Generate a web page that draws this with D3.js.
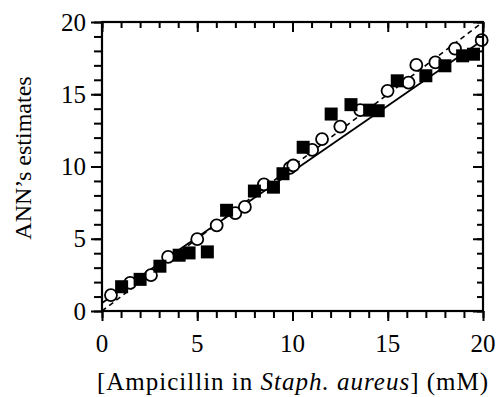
<!DOCTYPE html>
<html><head><meta charset="utf-8">
<script src="https://cdn.jsdelivr.net/npm/d3@7"></script>
<style>body{margin:0;background:#fff}svg{display:block}</style>
</head><body>
<script>
const circleX = [0.47,1.48,2.57,3.47,5.0,6.02,7.0,7.5,8.5,9.86,10.04,11.03,11.55,12.51,13.56,14.99,16.09,16.5,17.5,18.53,19.93];
const circleY = [1.1,1.95,2.48,3.74,4.97,5.93,6.78,7.2,8.76,9.9,10.07,11.15,11.9,12.76,13.9,15.24,15.8,17.03,17.2,18.16,18.74];
const squareX = [1.03,2.0,3.04,4.05,4.57,5.53,6.54,8.0,9.0,9.5,10.56,12.03,13.07,14.05,14.5,15.5,17.0,18.0,18.93,19.5];
const squareY = [1.68,2.19,3.1,3.86,4.02,4.09,6.97,8.3,8.57,9.5,11.33,13.63,14.28,13.9,13.86,15.93,16.28,16.97,17.66,17.77];
const fitLine = [[0,0.55],[20,18.75]];
const idLine = [[0,0],[20,20]];
const xTicks = [0,5,10,15,20];
const yTicks = [0,5,10,15,20];

const W=496,H=397;
const m={l:102,r:483,t:22,b:311};
const svg=d3.select("body").append("svg").attr("width",W).attr("height",H);
const x=d3.scaleLinear().domain([0,20]).range([m.l,m.r]);
const y=d3.scaleLinear().domain([0,20]).range([m.b,m.t]);
const font="'Liberation Serif','Times New Roman',serif";
const minor=d3.range(0,21,1);

const line=d3.line().x(d=>x(d[0])).y(d=>y(d[1]));
svg.append("path").datum(idLine).attr("d",line).attr("fill","none").attr("stroke","#000").attr("stroke-width",1.6).attr("stroke-dasharray","5,4");
svg.append("path").datum(fitLine).attr("d",line).attr("fill","none").attr("stroke","#000").attr("stroke-width",1.8);

svg.append("g").selectAll("circle").data(circleX.map((v,i)=>[v,circleY[i]])).join("circle")
  .attr("cx",d=>x(d[0])).attr("cy",d=>y(d[1])).attr("r",6).attr("fill","#fff").attr("stroke","#000").attr("stroke-width",1.8);
const s=13;
svg.append("g").selectAll("rect").data(squareX.map((v,i)=>[v,squareY[i]])).join("rect")
  .attr("x",d=>x(d[0])-s/2).attr("y",d=>y(d[1])-s/2).attr("width",s).attr("height",s).attr("fill","#000");

function ax(axis, tr){
  const g=svg.append("g").attr("transform",tr).call(axis);
  g.select(".domain").remove();
  g.selectAll("line").attr("stroke","#000").attr("stroke-width",2);
  return g;
}
ax(d3.axisBottom(x).tickValues(minor).tickSize(7).tickFormat(""),`translate(0,${m.b})`);
ax(d3.axisBottom(x).tickValues(xTicks).tickSize(10).tickFormat(""),`translate(0,${m.b})`);
ax(d3.axisBottom(x).tickValues(minor).tickSize(6).tickFormat(""),`translate(0,${m.t})`);
ax(d3.axisBottom(x).tickValues(xTicks).tickSize(10).tickFormat(""),`translate(0,${m.t})`);
ax(d3.axisLeft(y).tickValues(minor).tickSize(8).tickFormat(""),`translate(${m.l},0)`);
ax(d3.axisLeft(y).tickValues(yTicks).tickSize(11).tickFormat(""),`translate(${m.l},0)`);
ax(d3.axisLeft(y).tickValues(minor).tickSize(6).tickFormat(""),`translate(${m.r},0)`);
ax(d3.axisLeft(y).tickValues(yTicks).tickSize(10).tickFormat(""),`translate(${m.r},0)`);

svg.append("rect").attr("x",m.l).attr("y",m.t).attr("width",m.r-m.l).attr("height",m.b-m.t)
  .attr("fill","none").attr("stroke","#000").attr("stroke-width",2.2);

svg.append("g").selectAll("text").data(xTicks).join("text")
  .attr("x",d=>x(d)).attr("y",352).attr("text-anchor","middle")
  .attr("font-family",font).attr("font-size",25).text(d=>d);
svg.append("g").selectAll("text").data(yTicks).join("text")
  .attr("x",86).attr("y",d=>y(d)+8.5).attr("text-anchor","end")
  .attr("font-family",font).attr("font-size",25).text(d=>d);

const xt=svg.append("text").attr("x",293).attr("y",390).attr("text-anchor","middle")
  .attr("font-family",font).attr("font-size",25).attr("letter-spacing",1);
xt.append("tspan").text("[Ampicillin in ");
xt.append("tspan").attr("font-style","italic").text("Staph. aureus");
xt.append("tspan").text("] (mM)");
svg.append("text").attr("transform",`translate(31,158) rotate(-90)`).attr("text-anchor","middle")
  .attr("font-family",font).attr("font-size",24).text("ANN’s estimates");
</script>
</body></html>
